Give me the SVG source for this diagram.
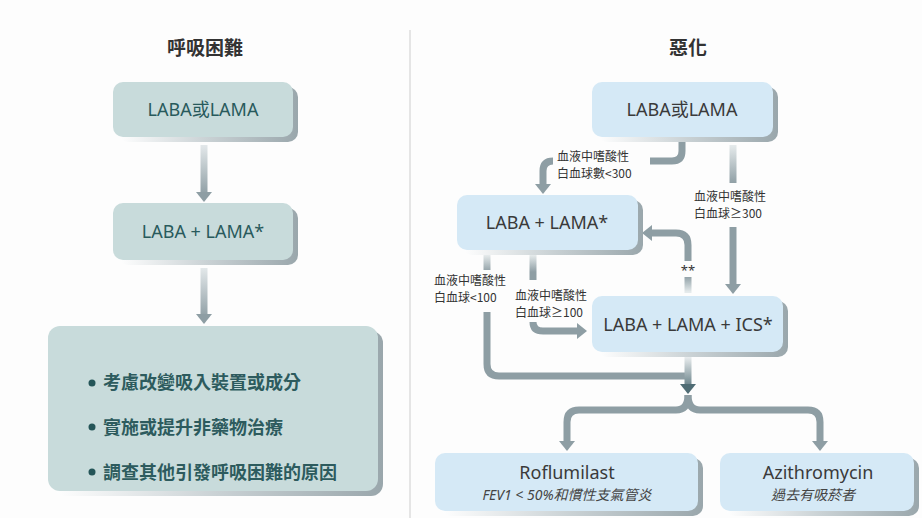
<svg xmlns="http://www.w3.org/2000/svg" width="922" height="518" viewBox="0 0 922 518">
<defs>
<style>
.title{font-family:"Noto Sans CJK TC","Noto Sans",sans-serif;font-size:19px;font-weight:bold;fill:#333;text-anchor:middle}
.lt{font-family:"Noto Sans","Noto Sans CJK TC",sans-serif;font-size:18px;fill:#285a5c;text-anchor:middle}
.bl{font-family:"Noto Sans CJK TC","Noto Sans",sans-serif;font-size:18px;font-weight:bold;fill:#2d5b5e}
.rt{font-family:"Noto Sans","Noto Sans CJK TC",sans-serif;font-size:18px;fill:#3a3a3a;text-anchor:middle}
.sub{font-family:"Noto Sans","Noto Sans CJK TC",sans-serif;font-size:14px;font-style:italic;fill:#444;text-anchor:middle}
.lab{font-family:"Noto Sans CJK TC","Noto Sans",sans-serif;font-size:12px;fill:#333}
.lbox{fill:#c8dbdb}
.rbox{fill:#d5e9f6}
.sh{fill:url(#shg)}
.c{fill:none;stroke:#8e9ea4;stroke-width:7}
</style>
<linearGradient id="shg" x1="0" y1="0" x2="1" y2="0">
<stop offset="0" stop-color="#ffffff"/>
<stop offset="0.5" stop-color="#c9d1d4"/>
<stop offset="1" stop-color="#9aa7ac"/>
</linearGradient>
<linearGradient id="g1" gradientUnits="userSpaceOnUse" x1="0" y1="145" x2="0" y2="195">
<stop offset="0" stop-color="#e3e8ea"/><stop offset="1" stop-color="#8e9ea4"/>
</linearGradient>
<linearGradient id="g2" gradientUnits="userSpaceOnUse" x1="0" y1="268" x2="0" y2="318">
<stop offset="0" stop-color="#e3e8ea"/><stop offset="1" stop-color="#8e9ea4"/>
</linearGradient>
<linearGradient id="g3" gradientUnits="userSpaceOnUse" x1="0" y1="145" x2="0" y2="184">
<stop offset="0" stop-color="#e6ebec"/><stop offset="1" stop-color="#8e9ea4"/>
</linearGradient>
<linearGradient id="g4" gradientUnits="userSpaceOnUse" x1="0" y1="255" x2="0" y2="272">
<stop offset="0" stop-color="#e6ebec"/><stop offset="1" stop-color="#8e9ea4"/>
</linearGradient>
<linearGradient id="g5" gradientUnits="userSpaceOnUse" x1="0" y1="356" x2="0" y2="392">
<stop offset="0" stop-color="#eef1f2"/><stop offset="1" stop-color="#4f6c74"/>
</linearGradient>
<linearGradient id="g6" gradientUnits="userSpaceOnUse" x1="0" y1="292" x2="0" y2="276">
<stop offset="0" stop-color="#e6ebec"/><stop offset="1" stop-color="#8e9ea4"/>
</linearGradient>
<marker id="ah" viewBox="0 -8 10 16" markerWidth="10" markerHeight="16" refX="0" refY="0" orient="auto" markerUnits="userSpaceOnUse">
<path d="M0,-8 L10,0 L0,8 z" fill="#8e9ea4"/>
</marker>
<marker id="ahd" viewBox="0 -8 10 16" markerWidth="10" markerHeight="16" refX="0" refY="0" orient="auto" markerUnits="userSpaceOnUse">
<path d="M0,-8 L10,0 L0,8 z" fill="#4f6c74"/>
</marker>
</defs>
<rect x="0" y="0" width="922" height="518" fill="#fdfdfd"/>
<line x1="410" y1="30" x2="410" y2="518" stroke="#dcdcdc" stroke-width="1.5"/>
<text class="title" x="205" y="55">呼吸困難</text>
<text class="title" x="688" y="55">惡化</text>

<g id="connectors">
<path d="M204,145 V192" style="fill:none;stroke:url(#g1);stroke-width:7" marker-end="url(#ah)"/>
<path d="M204,268 V314" style="fill:none;stroke:url(#g2);stroke-width:7" marker-end="url(#ah)"/>
<path class="c" d="M682,142 V151 Q682,161 672,161 H650"/>
<path class="c" d="M553,161 Q543,161 543,171 V184" marker-end="url(#ah)"/>
<path d="M733,145 V183" style="fill:none;stroke:url(#g3);stroke-width:7"/>
<path class="c" d="M733,227 V284" marker-end="url(#ah)"/>
<path class="c" d="M688,261 V245 Q688,233 676,233 H652" marker-end="url(#ah)"/>
<path d="M688,277 V293" style="fill:none;stroke:url(#g6);stroke-width:7"/>
<path d="M487,255 V270" style="fill:none;stroke:url(#g4);stroke-width:7"/>
<path class="c" d="M487,312 V364 Q487,376 499,376 H688"/>
<path d="M533,255 V280" style="fill:none;stroke:url(#g4);stroke-width:7"/>
<path class="c" d="M533,322 Q533,331 543,331 H577" marker-end="url(#ah)"/>
<path d="M688,356 V384" style="fill:none;stroke:url(#g5);stroke-width:7" marker-end="url(#ahd)"/>
<path class="c" d="M688,395 Q688,410 676,410 H579 Q567,410 567,422 V441" marker-end="url(#ah)"/>
<path class="c" d="M688,395 Q688,410 700,410 H808 Q820,410 820,422 V441" marker-end="url(#ah)"/>
<text class="lab" x="557" y="161">血液中嗜酸性</text>
<text class="lab" x="557" y="178">白血球數&lt;300</text>
<text class="lab" x="694" y="201">血液中嗜酸性</text>
<text class="lab" x="694" y="218">白血球≥300</text>
<text x="688" y="275" text-anchor="middle" style="font-family:'Noto Sans',sans-serif;font-size:13px;fill:#333">**</text>
<text class="lab" x="434" y="285">血液中嗜酸性</text>
<text class="lab" x="434" y="302">白血球&lt;100</text>
<text class="lab" x="515" y="300">血液中嗜酸性</text>
<text class="lab" x="515" y="317">白血球≥100</text>
</g>

<g id="L1">
<rect class="sh" x="118" y="87" width="180" height="55" rx="10"/>
<rect class="lbox" x="113" y="82" width="180" height="55" rx="10"/>
<text class="lt" x="203" y="116">LABA或LAMA</text>
</g>
<g id="L2">
<rect class="sh" x="118" y="208" width="180" height="57" rx="10"/>
<rect class="lbox" x="113" y="203" width="180" height="57" rx="10"/>
<text class="lt" x="203" y="238">LABA + LAMA*</text>
</g>
<g id="L3">
<rect class="sh" x="53" y="331" width="330" height="165" rx="12"/>
<rect class="lbox" x="48" y="326" width="330" height="165" rx="12"/>
<circle cx="92" cy="383" r="3.5" fill="#245558"/>
<circle cx="92" cy="427" r="3.5" fill="#245558"/>
<circle cx="92" cy="472" r="3.5" fill="#245558"/>
<text class="bl" x="103" y="389">考慮改變吸入裝置或成分</text>
<text class="bl" x="103" y="434">實施或提升非藥物治療</text>
<text class="bl" x="103" y="479">調查其他引發呼吸困難的原因</text>
</g>

<g id="R1">
<rect class="sh" x="597" y="87" width="181" height="55" rx="10"/>
<rect class="rbox" x="592" y="82" width="181" height="55" rx="10"/>
<text class="rt" x="682" y="116">LABA或LAMA</text>
</g>
<g id="R2">
<rect class="sh" x="462" y="200" width="181" height="55" rx="10"/>
<rect class="rbox" x="457" y="195" width="181" height="55" rx="10"/>
<text class="rt" x="547" y="229">LABA + LAMA*</text>
</g>
<g id="R3">
<rect class="sh" x="597" y="301" width="191" height="56" rx="10"/>
<rect class="rbox" x="592" y="296" width="191" height="56" rx="10"/>
<text class="rt" x="688" y="331">LABA + LAMA + ICS*</text>
</g>
<g id="R4">
<rect class="sh" x="440" y="458" width="263" height="58" rx="10"/>
<rect class="rbox" x="435" y="453" width="263" height="58" rx="10"/>
<text class="rt" x="567" y="479">Roflumilast</text>
<text class="sub" x="567" y="500">FEV1 &lt; 50%和慣性支氣管炎</text>
</g>
<g id="R5">
<rect class="sh" x="725" y="458" width="194" height="58" rx="10"/>
<rect class="rbox" x="720" y="453" width="194" height="58" rx="10"/>
<text class="rt" x="818" y="479">Azithromycin</text>
<text class="sub" x="813" y="500">過去有吸菸者</text>
</g>
</svg>
